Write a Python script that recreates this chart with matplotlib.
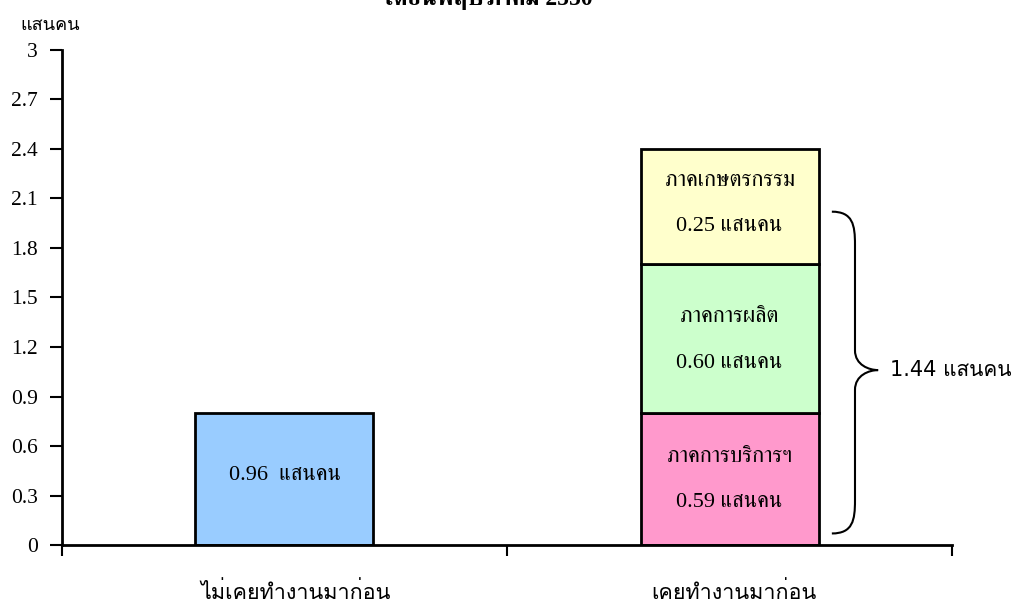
import matplotlib as mpl
mpl.use('agg')
import matplotlib.pyplot as plt
from matplotlib import font_manager as fm
from matplotlib.ft2font import FT2Font
from matplotlib.path import Path
from matplotlib.patches import PathPatch

# data
categories = ['ไม่เคยทำงานมาก่อน', 'เคยทำงานมาก่อน']
never_height = [0.8]
never_label = '0.96  แสนคน'
stack_heights = [0.8, 0.9, 0.7]
stack_names = ['ภาคการบริการฯ', 'ภาคการผลิต', 'ภาคเกษตรกรรม']
stack_labels = ['0.59 แสนคน', '0.60 แสนคน', '0.25 แสนคน']
stack_colors = ['#FF99CC', '#CCFFCC', '#FFFFCC']
total_label = '1.44 แสนคน'
title = 'เดือนพฤษภาคม 2550'
yticks = [0, 0.3, 0.6, 0.9, 1.2, 1.5, 1.8, 2.1, 2.4, 2.7, 3]

# find fonts that have thai glyphs
thai = []
for f in fm.fontManager.ttflist:
    try:
        if 0x0E01 in FT2Font(f.fname).get_charmap() and f.name not in thai:
            thai.append(f.name)
    except Exception:
        pass
serif_thai = sorted(thai, key=lambda n: 0 if ('Serif' in n or 'Norasi' in n) else 1)
sans_thai = sorted(thai, key=lambda n: 1 if ('Serif' in n or 'Norasi' in n) else 0)
SERIF = ['Liberation Serif'] + serif_thai + ['DejaVu Sans']
SANS = ['DejaVu Sans'] + sans_thai

fig = plt.figure(figsize=(10.23, 6.08), dpi=100)
ax = fig.add_axes([0.0606, 0.1036, 0.87, 0.8142])

w = 0.40
ax.bar(0, never_height[0], width=w, color='#99CCFF', edgecolor='black', linewidth=2)
ax.text(0, 0.42, never_label, ha='center', va='center', fontsize=16, family=SERIF)

bottom = 0
name_y = [0.53, 1.38, 2.20]
val_y = [0.26, 1.10, 1.93]
for h, c, nm, lb, ny, vy in zip(stack_heights, stack_colors, stack_names, stack_labels, name_y, val_y):
    ax.bar(1, h, width=w, bottom=bottom, color=c, edgecolor='black', linewidth=2)
    ax.text(1, ny, nm, ha='center', va='center', fontsize=16, family=SERIF)
    ax.text(1, vy, lb, ha='center', va='center', fontsize=16, family=SERIF)
    bottom += h

# brace
x0, x1, x2 = 1.23, 1.282, 1.334
top, mid, bot = 2.02, 1.06, 0.07
verts = [(x0, top), (x1 - 0.005, top), (x1, top - 0.08), (x1, top - 0.2),
         (x1, mid + 0.12),
         (x1, mid + 0.03), (x2 - 0.02, mid), (x2, mid),
         (x2 - 0.02, mid), (x1, mid - 0.03), (x1, mid - 0.12),
         (x1, bot + 0.2),
         (x1, bot + 0.08), (x1 - 0.005, bot), (x0, bot)]
codes = [Path.MOVETO, Path.CURVE4, Path.CURVE4, Path.CURVE4,
         Path.LINETO,
         Path.CURVE4, Path.CURVE4, Path.CURVE4,
         Path.CURVE4, Path.CURVE4, Path.CURVE4,
         Path.LINETO,
         Path.CURVE4, Path.CURVE4, Path.CURVE4]
ax.add_patch(PathPatch(Path(verts, codes), fill=False, lw=1.5, clip_on=False))
ax.text(1.36, mid, total_label, ha='left', va='center', fontsize=15, family=SANS, clip_on=False)

ax.set_xlim(-0.5, 1.5)
ax.set_ylim(0, 3)
ax.set_yticks(yticks)
ax.set_yticklabels([f'{t:g}' for t in yticks], family=SERIF, fontsize=15.5)
ax.set_xticks([-0.5, 0.5, 1.5])
ax.set_xticklabels([])
ax.tick_params(axis='x', direction='out', length=8, width=1.5)
ax.tick_params(axis='y', direction='out', length=8.5, width=1.5, pad=9)
for s in ['top', 'right']:
    ax.spines[s].set_visible(False)
for s in ['left', 'bottom']:
    ax.spines[s].set_linewidth(2)

cat_x = [0.025, 1.01]
for x, c in zip(cat_x, categories):
    ax.text(x, -0.285, c, ha='center', va='center', fontsize=15.5, family=SANS)

fig.text(0.049, 0.959, 'แสนคน', ha='center', va='center', fontsize=13, family=SANS)
fig.text(0.478, 1.004, title, ha='center', va='center', fontsize=17, fontweight='bold', family=SERIF)

fig.savefig('out.png', dpi=100)
